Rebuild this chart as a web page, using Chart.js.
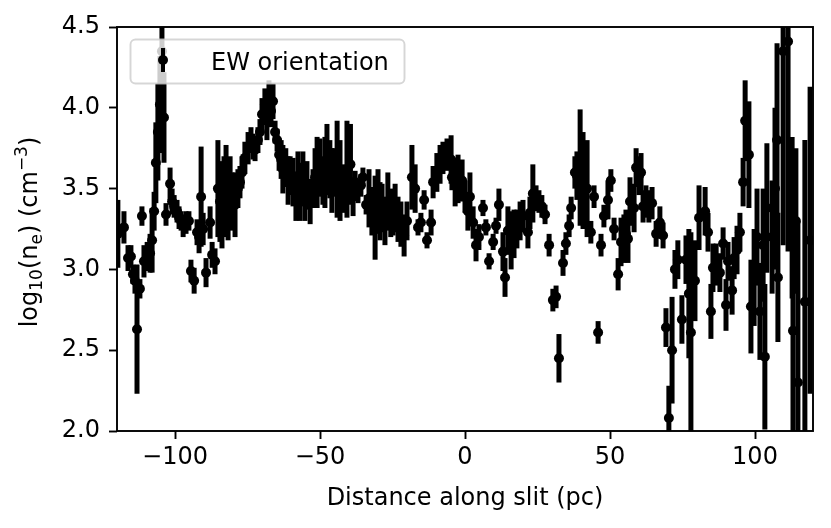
<!DOCTYPE html>
<html>
<head>
<meta charset="utf-8">
<script src="https://cdn.jsdelivr.net/npm/chart.js@4.4.1/dist/chart.umd.min.js"></script>
<style>
  html, body { margin: 0; padding: 0; background: #fff; }
  #chart { display: block; }
</style>
</head>
<body>
<canvas id="chart" width="831" height="528"></canvas>
<script>
// distance along slit (pc)
const distance = [
  -119.7, -117.6, -116.2, -115.2, -114.5, -113.8, -113.1, -112.1, -111.4, -110.7,
  -109.6, -108.6, -107.9, -107.2, -106.6, -105.9, -105.2, -104.5, -103.8, -103.1,
  -101.7, -101.0, -100.3, -99.3, -98.6, -97.9, -97.2, -96.2, -95.2, -94.5,
  -93.4, -92.4, -91.7, -91.0, -90.3, -89.3, -87.9, -87.2, -86.2, -85.2,
  -84.5, -83.8, -83.1, -82.4, -81.7, -81.0, -80.3,
  -79.3, -78.3, -77.6, -76.9, -75.9, -74.8, -73.8, -73.1, -72.4, -71.4,
  -70.7, -70.0, -69.0, -68.3, -67.6, -66.9, -66.2, -65.5, -64.8, -64.1,
  -63.4, -62.8, -61.8, -61.0, -60.3, -59.3, -58.3, -57.6, -56.9, -55.9,
  -55.2, -54.5, -53.4, -52.4, -51.7, -51.0, -50.0, -49.0, -48.3, -47.6,
  -46.6, -45.9, -45.2, -44.1, -43.1, -42.1,
  -40.7, -39.5, -38.6, -37.9, -36.9, -35.9, -35.2, -34.1, -33.1, -32.1,
  -31.0, -30.0, -29.3, -28.6, -27.6, -26.6, -25.6, -24.8, -24.1, -23.1,
  -22.1, -21.0, -20.0, -18.3, -17.2, -16.2, -15.2, -14.1, -13.1, -11.7,
  -11.0, -9.7, -8.6, -7.6, -6.2, -4.8, -4.5, -3.4, -2.4,
  -1.0, 0.0, 1.0, 1.7, 2.8, 3.8, 4.8, 6.2, 7.2, 8.3,
  9.7, 10.7, 11.7, 13.1, 13.8, 14.8, 15.9, 16.9, 17.9, 19.0,
  20.0, 21.7, 22.4, 23.4, 24.5, 25.5, 26.5, 27.6, 29.0, 30.3,
  31.4, 32.4, 33.8, 34.8, 35.9, 36.6, 37.9,
  38.6, 39.7, 40.7, 42.1, 43.4, 44.5, 45.9, 46.9, 47.9, 49.3,
  50.3, 51.4, 52.8, 53.8, 54.8, 55.5, 56.2, 56.9, 58.3, 59.0,
  60.0, 60.7, 61.4, 62.4, 63.4, 64.5, 65.9, 67.2, 68.3, 69.3,
  70.3, 71.4, 72.4, 73.4, 74.8, 76.2, 77.2,
  77.9, 79.3, 80.7, 82.8, 83.8, 84.8, 85.5, 86.6, 87.9, 89.0,
  90.0, 90.7, 92.1, 92.8, 93.8, 94.8, 95.9, 96.6, 97.9, 98.6,
  99.7, 100.7, 101.7, 102.8, 103.4, 104.1, 105.9, 106.9, 107.6, 107.9,
  109.7, 111.4, 112.8, 113.1, 114.1, 114.8, 117.2, 119.0,
]

// log10 electron density
const logNe = [
  3.22, 3.26, 3.07, 3.08, 2.97, 2.93, 2.63, 2.88, 3.33, 3.05,
  3.08, 3.10, 3.18, 3.36, 3.66, 3.85, 4.02, 4.35, 3.94, 3.34,
  3.53, 3.42, 3.39, 3.36, 3.32, 3.30, 3.27, 3.29, 3.30, 2.99,
  2.93, 3.23, 3.20, 3.45, 3.25, 2.98, 3.29, 3.09, 3.05, 3.50,
  3.42, 3.35, 3.45, 3.55, 3.38, 3.50, 3.42,
  3.40, 3.50, 3.54, 3.60, 3.69, 3.75, 3.80, 3.76, 3.74, 3.80,
  3.85, 3.96, 4.02, 3.92, 4.05, 3.98, 4.04, 3.85, 3.80, 3.71,
  3.68, 3.62, 3.63, 3.55, 3.58, 3.54, 3.45, 3.58, 3.48, 3.56,
  3.45, 3.52, 3.42, 3.50, 3.57, 3.60, 3.63, 3.55, 3.60, 3.68,
  3.62, 3.55, 3.60, 3.62, 3.55, 3.50,
  3.62, 3.65, 3.45, 3.54, 3.48, 3.52, 3.57, 3.40, 3.44, 3.36,
  3.32, 3.42, 3.36, 3.38, 3.30, 3.42, 3.35, 3.33, 3.38, 3.31,
  3.28, 3.21, 3.30, 3.57, 3.50, 3.26, 3.29, 3.43, 3.18, 3.29,
  3.54, 3.60, 3.65, 3.69, 3.71, 3.68, 3.57, 3.54, 3.56,
  3.55, 3.45, 3.36, 3.45, 3.29, 3.15, 3.20, 3.38, 3.26, 3.05,
  3.17, 3.27, 3.40, 3.11, 2.95, 3.24, 3.18, 3.22, 3.25, 3.30,
  3.33, 3.23, 3.35, 3.47, 3.44, 3.42, 3.39, 3.34, 3.15, 2.81,
  2.83, 2.45, 3.04, 3.16, 3.27, 3.38, 3.60,
  3.58, 3.63, 3.55, 3.50, 3.23, 3.45, 2.61, 3.15, 3.33, 3.43,
  3.55, 3.25, 2.97, 3.17, 3.19, 3.22, 3.19, 3.42, 3.38, 3.63,
  3.58, 3.60, 3.39, 3.42, 3.39, 3.41, 3.22, 3.29, 3.21, 2.64,
  2.08, 2.50, 3.00, 3.06, 2.69, 3.06, 2.85,
  2.61, 2.93, 3.32, 3.36, 3.23, 2.74, 3.01, 3.03, 2.98, 3.16,
  2.78, 3.05, 2.87, 3.07, 3.12, 3.23, 3.54, 3.92, 3.71, 2.77,
  2.95, 3.20, 2.74, 3.15, 2.46, 3.38, 3.20, 3.50, 3.80, 2.95,
  4.35, 4.41, 3.32, 2.62, 3.30, 2.30, 2.80, 3.18,
]

// symmetric 1-sigma uncertainty on log10(ne)
const logNeErr = [
  0.21, 0.10, 0.08, 0.07, 0.06, 0.08, 0.40, 0.06, 0.06, 0.10,
  0.09, 0.12, 0.20, 0.12, 0.25, 0.30, 0.30, 0.25, 0.28, 0.07,
  0.10, 0.08, 0.07, 0.07, 0.07, 0.06, 0.07, 0.07, 0.06, 0.07,
  0.08, 0.08, 0.10, 0.31, 0.10, 0.09, 0.10, 0.08, 0.08, 0.30,
  0.25, 0.22, 0.25, 0.22, 0.20, 0.20, 0.18,
  0.20, 0.12, 0.10, 0.10, 0.10, 0.10, 0.08, 0.08, 0.07, 0.08,
  0.08, 0.10, 0.10, 0.12, 0.12, 0.10, 0.11, 0.07, 0.07, 0.10,
  0.12, 0.15, 0.12, 0.15, 0.12, 0.15, 0.15, 0.15, 0.18, 0.17,
  0.15, 0.15, 0.14, 0.12, 0.18, 0.22, 0.18, 0.15, 0.22, 0.22,
  0.18, 0.20, 0.15, 0.30, 0.25, 0.15,
  0.30, 0.25, 0.12, 0.07, 0.07, 0.07, 0.06, 0.06, 0.18, 0.15,
  0.26, 0.20, 0.18, 0.15, 0.15, 0.18, 0.15, 0.12, 0.15, 0.14,
  0.14, 0.13, 0.12, 0.20, 0.15, 0.05, 0.06, 0.06, 0.05, 0.08,
  0.10, 0.12, 0.12, 0.10, 0.10, 0.15, 0.08, 0.15, 0.15,
  0.13, 0.10, 0.12, 0.15, 0.10, 0.10, 0.08, 0.05, 0.05, 0.05,
  0.05, 0.05, 0.10, 0.12, 0.12, 0.15, 0.18, 0.15, 0.12, 0.12,
  0.10, 0.10, 0.10, 0.18, 0.08, 0.07, 0.07, 0.06, 0.07, 0.07,
  0.07, 0.15, 0.08, 0.07, 0.07, 0.07, 0.10,
  0.15, 0.36, 0.30, 0.30, 0.07, 0.07, 0.07, 0.07, 0.07, 0.12,
  0.07, 0.07, 0.10, 0.15, 0.15, 0.15, 0.15, 0.15, 0.15, 0.12,
  0.12, 0.12, 0.10, 0.10, 0.10, 0.10, 0.08, 0.10, 0.08, 0.12,
  0.20, 0.33, 0.12, 0.12, 0.15, 0.15, 0.40,
  0.62, 0.25, 0.20, 0.15, 0.12, 0.17, 0.15, 0.13, 0.12, 0.10,
  0.16, 0.12, 0.15, 0.13, 0.15, 0.12, 0.15, 0.25, 0.33, 0.29,
  0.30, 0.30, 0.30, 0.35, 0.45, 0.40, 0.35, 0.50, 0.60, 0.40,
  1.20, 1.30, 0.50, 0.70, 0.45, 1.00, 1.00, 0.95,
]

const xTicks = [-100, -50, 0, 50, 100]
const yTicks = [2.0, 2.5, 3.0, 3.5, 4.0, 4.5]
const seriesLabel = 'EW orientation'
// y label in pieces: [text, kind] where kind is '' / 'sub' / 'sup'
const yLabelParts = [['log', ''], ['10', 'sub'], ['(n', ''], ['e', 'sub'], [') (cm', ''], ['\u22123', 'sup'], [')', '']]

const FONT = "'DejaVu Sans', sans-serif"
Chart.defaults.font.family = FONT
Chart.defaults.font.size = 24
Chart.defaults.color = '#000'

const minus = (v) => (v < 0 ? '\u2212' + Math.abs(v) : String(v))

// vertical error bars, clipped to the axes like matplotlib does
const errorBars = {
  id: 'errorBars',
  beforeDatasetsDraw(chart) {
    const { ctx, chartArea, scales: { x, y } } = chart
    ctx.save()
    ctx.beginPath()
    ctx.rect(chartArea.left, chartArea.top, chartArea.width, chartArea.height)
    ctx.clip()
    ctx.strokeStyle = '#000'
    ctx.lineWidth = 5
    distance.forEach((d, i) => {
      const px = x.getPixelForValue(d)
      ctx.beginPath()
      ctx.moveTo(px, y.getPixelForValue(logNe[i] - logNeErr[i]))
      ctx.lineTo(px, y.getPixelForValue(logNe[i] + logNeErr[i]))
      ctx.stroke()
    })
    ctx.restore()
  },
}

// mathtext-like y axis label
const yLabel = {
  id: 'yLabel',
  afterDraw(chart) {
    const { ctx, chartArea } = chart
    const big = `24px ${FONT}`, small = `17px ${FONT}`
    ctx.save()
    let total = 0
    yLabelParts.forEach(([t, k]) => {
      ctx.font = k ? small : big
      total += ctx.measureText(t).width
    })
    const cy = (chartArea.top + chartArea.bottom) / 2 + 3
    ctx.translate(37, cy + total / 2)
    ctx.rotate(-Math.PI / 2)
    ctx.fillStyle = '#000'
    ctx.textBaseline = 'alphabetic'
    let pos = 0
    yLabelParts.forEach(([t, k]) => {
      ctx.font = k ? small : big
      const dy = k === 'sub' ? 5 : k === 'sup' ? -10 : 0
      ctx.fillText(t, pos, dy)
      pos += ctx.measureText(t).width
    })
    ctx.restore()
  },
}

// axes frame + legend box drawn on top of the data
const frameAndLegend = {
  id: 'frameAndLegend',
  afterDatasetsDraw(chart) {
    const { ctx, chartArea } = chart
    ctx.save()
    ctx.strokeStyle = '#000'
    ctx.lineWidth = 1.9
    ctx.strokeRect(chartArea.left, chartArea.top, chartArea.width, chartArea.height)

    // legend
    const lx = chartArea.left + 13.5, ly = chartArea.top + 12.5, lw = 274, lh = 44
    ctx.beginPath()
    ctx.roundRect(lx, ly, lw, lh, 5)
    ctx.fillStyle = 'rgba(255,255,255,0.8)'
    ctx.fill()
    ctx.strokeStyle = 'rgba(204,204,204,0.8)'
    ctx.lineWidth = 1.9
    ctx.stroke()

    const hx = lx + 32.5, hy = ly + 20.5
    ctx.strokeStyle = '#000'
    ctx.lineWidth = 4
    ctx.beginPath()
    ctx.moveTo(hx, hy - 12)
    ctx.lineTo(hx, hy + 12)
    ctx.stroke()
    ctx.fillStyle = '#000'
    ctx.beginPath()
    ctx.arc(hx, hy, 5, 0, Math.PI * 2)
    ctx.fill()

    ctx.font = `24px ${FONT}`
    ctx.textBaseline = 'alphabetic'
    ctx.textAlign = 'left'
    ctx.fillText(seriesLabel, lx + 80.5, ly + 30)
    ctx.restore()
  },
}

new Chart(document.getElementById('chart'), {
  type: 'scatter',
  data: {
    datasets: [{
      label: seriesLabel,
      data: distance.map((d, i) => ({ x: d, y: logNe[i] })),
      pointRadius: 5,
      pointHoverRadius: 5,
      pointBackgroundColor: '#000',
      pointBorderWidth: 0,
      showLine: false,
    }],
  },
  options: {
    responsive: false,
    animation: false,
    events: [],
    layout: { padding: { top: 27, right: 18, left: 0, bottom: 0 } },
    plugins: { legend: { display: false }, tooltip: { enabled: false } },
    scales: {
      x: {
        type: 'linear',
        min: -120,
        max: 120,
        afterFit: (scale) => { scale.height = 97 },
        afterBuildTicks: (scale) => { scale.ticks = xTicks.map((v) => ({ value: v })) },
        grid: { drawOnChartArea: false, drawTicks: true, tickLength: 8, tickWidth: 1.9, tickColor: '#000' },
        border: { display: false },
        ticks: { padding: 4, maxRotation: 0, callback: (v) => minus(v) },
        title: { display: true, text: 'Distance along slit (pc)', padding: { top: 0, bottom: 15 } },
      },
      y: {
        type: 'linear',
        min: 2.0,
        max: 4.5,
        afterFit: (scale) => { scale.width = 117 },
        afterBuildTicks: (scale) => { scale.ticks = yTicks.map((v) => ({ value: v })) },
        grid: { drawOnChartArea: false, drawTicks: true, tickLength: 8, tickWidth: 1.9, tickColor: '#000' },
        border: { display: false },
        ticks: { padding: 9, callback: (v) => v.toFixed(1) },
      },
    },
  },
  plugins: [errorBars, frameAndLegend, yLabel],
})
</script>
</body>
</html>
